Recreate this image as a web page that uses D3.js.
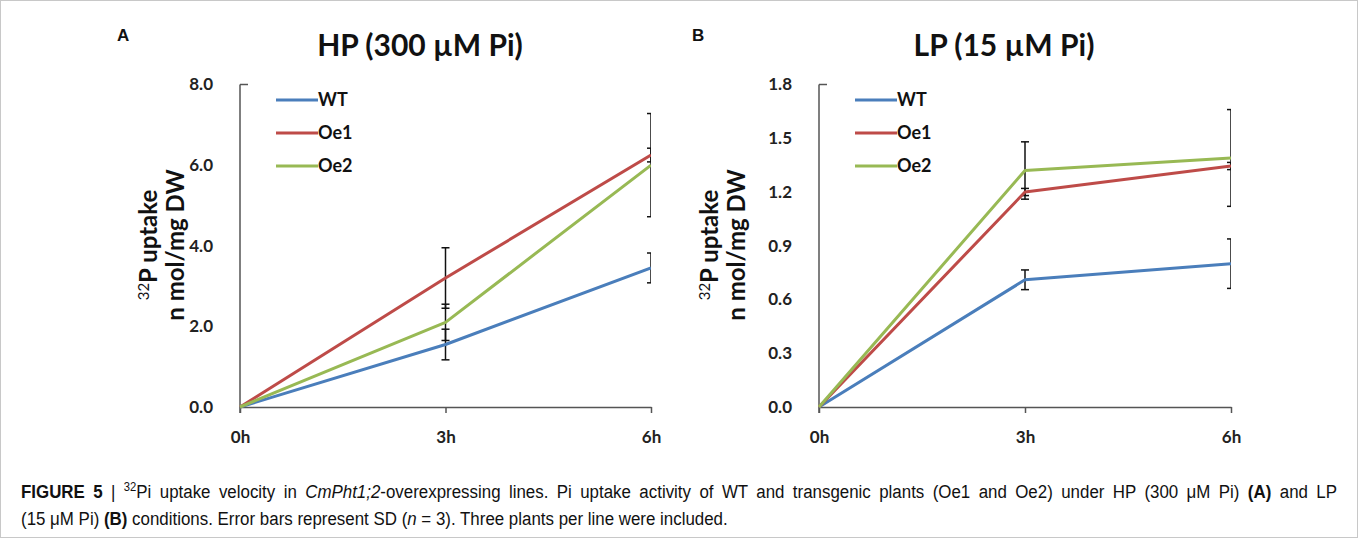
<!DOCTYPE html>
<html><head><meta charset="utf-8">
<script src="https://cdn.jsdelivr.net/npm/d3@7/dist/d3.min.js"></script>
<style>
body{margin:0;background:#fff;}
svg{display:block;}
</style></head>
<body>
<svg id="chart" width="1358" height="538"></svg>
<script>
// ---------- data ----------
const times = ["0h", "3h", "6h"];
const seriesNames = ["WT", "Oe1", "Oe2"];
const seriesColors = ["#4a7ebb", "#be4b48", "#98b954"];

// Panel A: HP (300 µM Pi)
const hpWT  = [0, 1.55, 3.45];
const hpOe1 = [0, 3.20, 6.25];
const hpOe2 = [0, 2.10, 6.00];
const hpWTsd  = [0, 0.38, 0.37];
const hpOe1sd = [0, 0.75, 0.17];
const hpOe2sd = [0, 0.45, 1.28];
const hpTicks = [0, 2, 4, 6, 8];

// Panel B: LP (15 µM Pi)
const lpWT  = [0, 0.71, 0.80];
const lpOe1 = [0, 1.20, 1.345];
const lpOe2 = [0, 1.32, 1.39];
const lpWTsd  = [0, 0.055, 0.138];
const lpOe1sd = [0, 0.02, 0.02];
const lpOe2sd = [0, 0.16, 0.27];
const lpTicks = [0, 0.3, 0.6, 0.9, 1.2, 1.5, 1.8];

const svg = d3.select("#chart");
const FONT = "Lato, 'Open Sans', sans-serif";

// frame
svg.append("rect").attr("x", 0.5).attr("y", 0.5).attr("width", 1357).attr("height", 537)
  .attr("fill", "none").attr("stroke", "#c8c8c8").attr("stroke-width", 1);

function panel(cfg) {
  const g = svg.append("g");
  const x = d3.scalePoint().domain(times).range([cfg.x0, cfg.x1]);
  const y = d3.scaleLinear().domain([0, cfg.ymax]).range([407, 84.5]);

  // panel letter
  g.append("text").attr("x", cfg.letterX).attr("y", 41).text(cfg.letter)
    .attr("font-family", "'Liberation Sans', Arial, sans-serif").attr("font-weight", "bold")
    .attr("font-size", 17).attr("fill", "#111");

  // title
  g.append("text").attr("x", cfg.titleX).attr("y", 56).attr("text-anchor", "middle")
    .text(cfg.title).attr("font-family", FONT).attr("font-weight", "bold")
    .attr("font-size", 30).attr("fill", "#111");

  // y axis labels via d3 axis
  const ya = d3.axisLeft(y).tickValues(cfg.ticks).tickSize(0).tickPadding(27)
    .tickFormat(d3.format(".1f"));
  const yg = g.append("g").attr("transform", `translate(${cfg.x0},0)`).call(ya);
  yg.select(".domain").remove();
  yg.selectAll("text").attr("font-family", FONT).attr("font-weight", "bold")
    .attr("font-size", 17).attr("fill", "#222");

  // y axis line + top tick
  g.append("line").attr("x1", cfg.x0).attr("x2", cfg.x0).attr("y1", y(cfg.ymax)).attr("y2", y(0) + 6)
    .attr("stroke", "#555").attr("stroke-width", 1.5);
  g.append("line").attr("x1", cfg.x0).attr("x2", cfg.x0 + 8).attr("y1", y(cfg.ymax)).attr("y2", y(cfg.ymax))
    .attr("stroke", "#555").attr("stroke-width", 1.5);

  // x axis
  const xa = d3.axisBottom(x).tickSize(6).tickSizeOuter(0).tickPadding(18);
  const xg = g.append("g").attr("transform", `translate(0,${y(0)})`).call(xa);
  xg.select(".domain").attr("stroke", "#555").attr("stroke-width", 1.5);
  xg.selectAll(".tick line").attr("stroke", "#555").attr("stroke-width", 1.5);
  xg.selectAll("text").attr("font-family", FONT).attr("font-weight", "bold")
    .attr("font-size", 17).attr("fill", "#222");

  // y axis title
  const yt = g.append("text").attr("transform", `translate(${cfg.ylabX},245) rotate(-90)`)
    .attr("text-anchor", "middle").attr("font-family", FONT).attr("font-weight", "bold")
    .attr("font-size", 24).attr("fill", "#111");
  yt.append("tspan").attr("font-size", 15).attr("font-weight", "normal").attr("dy", -8).text("32");
  yt.append("tspan").attr("dy", 8).text("P uptake");
  g.append("text").attr("transform", `translate(${cfg.ylabX + 27},245) rotate(-90)`)
    .attr("text-anchor", "middle").attr("font-family", FONT).attr("font-weight", "bold")
    .attr("font-size", 24).attr("fill", "#111").text("n mol/mg DW");

  // clip to plot area
  const cid = "clip" + cfg.letter;
  svg.append("clipPath").attr("id", cid).append("rect")
    .attr("x", cfg.x0 - 20).attr("y", 60).attr("width", cfg.x1 - cfg.x0 + 20).attr("height", 360);
  const plot = g.append("g").attr("clip-path", `url(#${cid})`);

  // error bars
  cfg.series.forEach((vals, si) => {
    const sd = cfg.sds[si];
    times.forEach((t, i) => {
      if (sd[i] <= 0) return;
      const cx = x(t), hi = y(vals[i] + sd[i]), lo = y(vals[i] - sd[i]);
      const eb = plot.append("g").attr("stroke", "#111").attr("stroke-width", 1.5);
      eb.append("line").attr("x1", cx).attr("x2", cx).attr("y1", hi).attr("y2", lo);
      eb.append("line").attr("x1", cx - 4).attr("x2", cx + 4).attr("y1", hi).attr("y2", hi);
      eb.append("line").attr("x1", cx - 4).attr("x2", cx + 4).attr("y1", lo).attr("y2", lo);
    });
  });

  // lines
  const line = d3.line().x((d, i) => x(times[i])).y(d => y(d));
  cfg.series.forEach((vals, si) => {
    plot.append("path").datum(vals).attr("d", line).attr("fill", "none")
      .attr("stroke", seriesColors[si]).attr("stroke-width", 3).attr("stroke-linejoin", "round");
  });

  // legend
  seriesNames.forEach((n, i) => {
    const ly = 100 + i * 33;
    g.append("line").attr("x1", cfg.legX).attr("x2", cfg.legX + 42).attr("y1", ly).attr("y2", ly)
      .attr("stroke", seriesColors[i]).attr("stroke-width", 3);
    g.append("text").attr("x", cfg.legX + 42).attr("y", ly + 6).text(n)
      .attr("font-family", FONT).attr("font-weight", "bold").attr("font-size", 18).attr("fill", "#111");
  });
}

panel({letter: "A", letterX: 117, title: "HP (300 \u00b5M Pi)", titleX: 420,
  x0: 240, x1: 651, ymax: 8, ticks: hpTicks, ylabX: 157, legX: 276,
  series: [hpWT, hpOe1, hpOe2], sds: [hpWTsd, hpOe1sd, hpOe2sd]});
panel({letter: "B", letterX: 692, title: "LP (15 \u00b5M Pi)", titleX: 1004,
  x0: 819, x1: 1231, ymax: 1.8, ticks: lpTicks, ylabX: 718, legX: 855,
  series: [lpWT, lpOe1, lpOe2], sds: [lpWTsd, lpOe1sd, lpOe2sd]});

// caption (condensed sans: Liberation Sans squeezed horizontally)
const CF = "'Liberation Sans', Arial, sans-serif";
const cap = svg.append("g");
const c1 = cap.append("text").attr("x", 0).attr("y", 498).attr("font-family", CF)
  .attr("font-size", 18).attr("fill", "#111");
c1.append("tspan").attr("font-weight", "bold").text("FIGURE 5 ");
c1.append("tspan").text("| ");
c1.append("tspan").attr("font-size", 12).attr("dy", -7).text("32");
c1.append("tspan").attr("dy", 7).text("Pi uptake velocity in ");
c1.append("tspan").attr("font-style", "italic").text("CmPht1;2");
c1.append("tspan").text("-overexpressing lines. Pi uptake activity of WT and transgenic plants (Oe1 and Oe2) under HP (300 \u03bcM Pi) ");
c1.append("tspan").attr("font-weight", "bold").text("(A)");
c1.append("tspan").text(" and LP");

const c2 = cap.append("text").attr("x", 0).attr("y", 525).attr("font-family", CF)
  .attr("font-size", 18).attr("fill", "#111");
c2.append("tspan").text("(15 \u03bcM Pi) ");
c2.append("tspan").attr("font-weight", "bold").text("(B)");
c2.append("tspan").text(" conditions. Error bars represent SD (");
c2.append("tspan").attr("font-style", "italic").text("n");
c2.append("tspan").text(" = 3). Three plants per line were included.");

(function () {
  const len2 = c2.node().getComputedTextLength();
  const sx = 707 / len2;
  cap.attr("transform", `translate(21,0) scale(${sx},1)`);
  const len1 = c1.node().getComputedTextLength();
  const target = 1316 / sx;
  const spaces = (c1.text().match(/ /g) || []).length;
  const extra = (target - len1) / spaces;
  c1.attr("word-spacing", extra);
})();
</script>
</body></html>
